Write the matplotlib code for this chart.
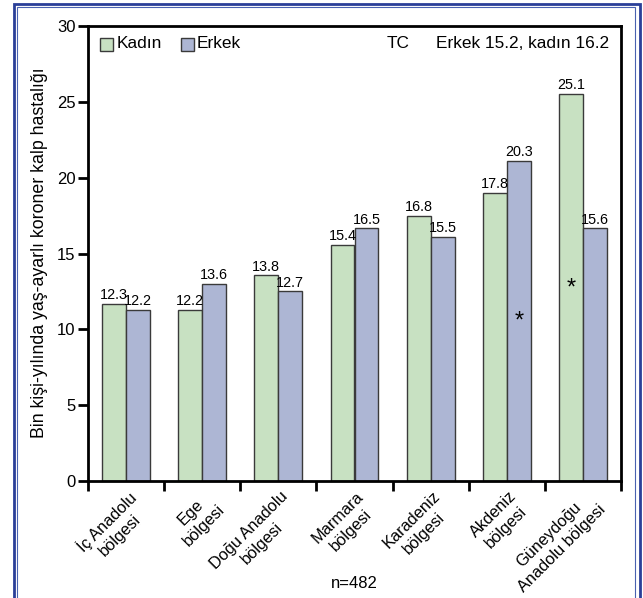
import matplotlib.pyplot as plt
from matplotlib.patches import Rectangle

plt.rcParams['font.family'] = ['Liberation Sans', 'DejaVu Sans']

bolgeler = ["İç Anadolu\nbölgesi", "Ege\nbölgesi", "Doğu Anadolu\nbölgesi",
            "Marmara\nbölgesi", "Karadeniz\nbölgesi", "Akdeniz\nbölgesi",
            "Güneydoğu\nAnadolu bölgesi"]
# bar heights as drawn in the picture
kadin = [11.7, 11.3, 13.55, 15.55, 17.5, 19.0, 25.5]
erkek = [11.3, 13.0, 12.5, 16.65, 16.1, 21.1, 16.65]
# printed values above the bars
kadin_etiket = ["12.3", "12.2", "13.8", "15.4", "16.8", "17.8", "25.1"]
erkek_etiket = ["12.2", "13.6", "12.7", "16.5", "15.5", "20.3", "15.6"]
# significance marks: (group, series, y)
yildiz = [(5, "erkek", 10.5), (6, "kadin", 12.7)]

yesil = "#c8e1c2"
mavi = "#adb6d4"
kenar = "#3a3a3a"

fig = plt.figure(figsize=(6.43, 5.98), dpi=100)
ax = fig.add_axes([88/643, 1-481/598, (621-88)/643, (481-26)/598])

w = 0.315
x = range(len(bolgeler))
ax.bar([i - w/2 for i in x], kadin, w, color=yesil, edgecolor=kenar, linewidth=1.0, zorder=2)
ax.bar([i + w/2 for i in x], erkek, w, color=mavi, edgecolor=kenar, linewidth=1.0, zorder=2)

for i in x:
    ax.text(i - w/2, kadin[i] + 0.12, kadin_etiket[i], ha="center", va="bottom", fontsize=10.4)
    ax.text(i + w/2, erkek[i] + 0.12, erkek_etiket[i], ha="center", va="bottom", fontsize=10.4)

for g, s, yv in yildiz:
    xx = g - w/2 if s == "kadin" else g + w/2
    ax.text(xx, yv, "*", ha="center", va="center", fontsize=17)

ax.set_xlim(-0.5, len(bolgeler) - 0.5)
ax.set_ylim(0, 30)
ax.set_yticks([0, 5, 10, 15, 20, 25, 30])
ax.tick_params(axis="y", length=7, width=2, labelsize=12, pad=2)
ax.set_xticks([i - 0.5 for i in range(len(bolgeler) + 1)])
ax.set_xticklabels([])
ax.tick_params(axis="x", length=7, width=2)
for sp in ax.spines.values():
    sp.set_linewidth(2)

for i, lab in enumerate(bolgeler):
    ax.text(i + 0.02, -0.5, lab, rotation=45, ha="right", va="top",
            rotation_mode="anchor", multialignment="center", fontsize=11.8, linespacing=1.3)

fig.text(40/643, 1-253/598, "Bin kişi-yılında yaş-ayarlı koroner kalp hastalığı",
         rotation=90, ha="center", va="center", fontsize=12.8)
fig.text(354/643, 1-583/598, "n=482", ha="center", va="center", fontsize=12)

# legend and header text
fig.patches.append(Rectangle((100/643, 1-51/598), 13/643, 13/598, transform=fig.transFigure,
                             facecolor=yesil, edgecolor=kenar, linewidth=1.0))
fig.text(117/643, 1-44/598, "Kadın", va="center", fontsize=12.4)
fig.patches.append(Rectangle((181/643, 1-51/598), 13/643, 13/598, transform=fig.transFigure,
                             facecolor=mavi, edgecolor=kenar, linewidth=1.0))
fig.text(197/643, 1-44/598, "Erkek", va="center", fontsize=12.4)
fig.text(387/643, 1-44/598, "TC", va="center", fontsize=12.4)
fig.text(609/643, 1-44/598, "Erkek 15.2, kadın 16.2", va="center", ha="right", fontsize=12.4)

# blue double frame
fig.patches.append(Rectangle((14/643, -0.3), 626/643, 1.3 - 4/598, transform=fig.transFigure,
                             fill=False, edgecolor="#2a3f98", linewidth=2.0))
fig.patches.append(Rectangle((17/643, -0.3), 618/643, 1.3 - 7.5/598, transform=fig.transFigure,
                             fill=False, edgecolor="#4a62b0", linewidth=0.8))

fig.savefig("out.png", dpi=100)
